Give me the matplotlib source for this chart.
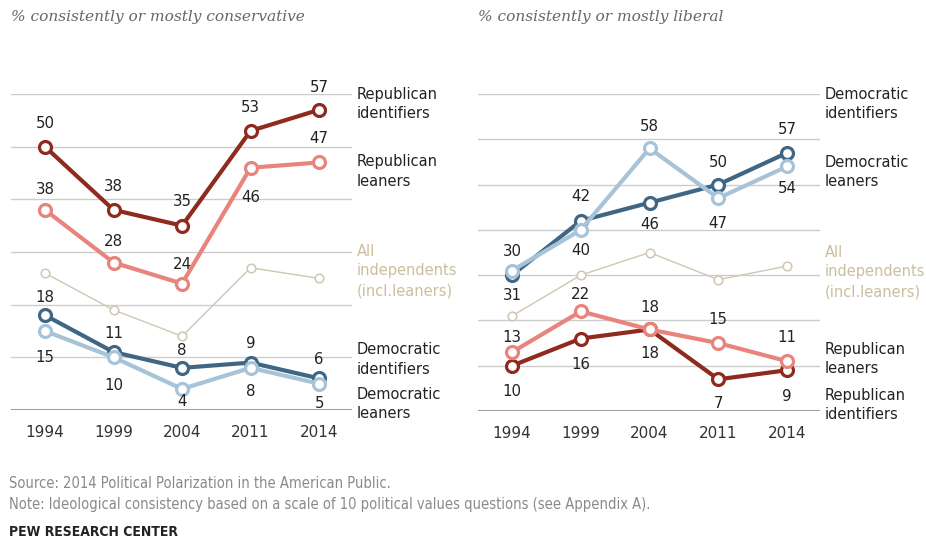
import matplotlib
matplotlib.use("Agg")
import matplotlib.pyplot as plt

years = ["1994", "1999", "2004", "2011", "2014"]

# % consistently or mostly conservative
cons_rep_ident = [50, 38, 35, 53, 57]
cons_rep_lean = [38, 28, 24, 46, 47]
cons_indep = [26, 19, 14, 27, 25]
cons_dem_ident = [18, 11, 8, 9, 6]
cons_dem_lean = [15, 10, 4, 8, 5]

# % consistently or mostly liberal
lib_dem_ident = [30, 42, 46, 50, 57]
lib_dem_lean = [31, 40, 58, 47, 54]
lib_indep = [21, 30, 35, 29, 32]
lib_rep_lean = [13, 22, 18, 15, 11]
lib_rep_ident = [10, 16, 18, 7, 9]

C_REP_ID = "#8E2A1E"
C_REP_LN = "#E8847B"
C_DEM_ID = "#3F6785"
C_DEM_LN = "#A7C3D7"
C_IND = "#CFC7B1"
C_IND_TXT = "#CBBE9E"
C_TXT = "#222222"
C_GRID = "#CCCCCC"
C_BASE = "#9A9A9A"

W, H = 926, 542
fig = plt.figure(figsize=(W / 100, H / 100), dpi=100)
fig.patch.set_facecolor("white")


def px_axes(left, top, right, bottom):
    return fig.add_axes([left / W, 1 - bottom / H, (right - left) / W, (bottom - top) / H])


def setup(ax, ymax):
    ax.set_xlim(-0.496, 4.48)
    ax.set_ylim(0, ymax)
    for s in ax.spines.values():
        s.set_visible(False)
    ax.set_yticks([])
    ax.set_xticks(range(len(years)), years)
    ax.tick_params(axis="x", length=0, pad=11, labelsize=11, labelcolor="#333333")
    for v in range(10, ymax + 1, 10):
        ax.axhline(v, color=C_GRID, lw=1.0, zorder=1)
    ax.axhline(0, color=C_BASE, lw=1.4, zorder=1)
    ax.patch.set_alpha(0)


def thick(ax, vals, color, z):
    ax.plot(range(len(vals)), vals, color=color, lw=3.0, marker="o", ms=8.6,
            mfc="white", mec=color, mew=2.3, zorder=z, clip_on=False,
            solid_capstyle="round")


def thin(ax, vals):
    ax.plot(range(len(vals)), vals, color=C_IND, lw=1.0, marker="o", ms=6.2,
            mfc="white", mec=C_IND, mew=1.1, zorder=3, clip_on=False)


def labels(ax, vals, offs):
    for i, (v, o) in enumerate(zip(vals, offs)):
        ax.annotate(str(v), (i, v), xytext=(0, -o * 0.72), textcoords="offset points",
                    ha="center", va="center", fontsize=10.8, color=C_TXT, zorder=10)


def series_name(ax, text, y, color=C_TXT):
    ax.text(1.0145, y, text, transform=ax.get_yaxis_transform(), ha="left", va="center",
            fontsize=10.5, color=color, linespacing=1.38)


# ---- left panel: conservative
axL = px_axes(11, 94, 352, 410)
setup(axL, 60)
thin(axL, cons_indep)
thick(axL, cons_dem_ident, C_DEM_ID, 4)
thick(axL, cons_dem_lean, C_DEM_LN, 5)
thick(axL, cons_rep_ident, C_REP_ID, 6)
thick(axL, cons_rep_lean, C_REP_LN, 5)
labels(axL, cons_rep_ident, [-23, -23, -24, -23, -22])
labels(axL, cons_rep_lean, [-20, -21, -19, 30, -24])
labels(axL, cons_dem_ident, [-18, -19, -17, -19, -19])
labels(axL, cons_dem_lean, [27, 28, 13, 24, 20])
series_name(axL, "Republican\nidentifiers", 58.1)
series_name(axL, "Republican\nleaners", 45.3)
series_name(axL, "All\nindependents\n(incl.leaners)", 26.4, C_IND_TXT)
series_name(axL, "Democratic\nidentifiers", 9.6)
series_name(axL, "Democratic\nleaners", 1.1)

# ---- right panel: liberal
axR = px_axes(478, 94, 820, 411)
setup(axR, 70)
thin(axR, lib_indep)
thick(axR, lib_rep_ident, C_REP_ID, 4)
thick(axR, lib_rep_lean, C_REP_LN, 5)
thick(axR, lib_dem_ident, C_DEM_ID, 4)
thick(axR, lib_dem_lean, C_DEM_LN, 5)
labels(axR, lib_dem_ident, [-24, -24, 22, -22, -23])
labels(axR, lib_dem_lean, [25, 21, -22, 25, 22])
labels(axR, lib_rep_lean, [-15, -17, -22, -24, -24])
labels(axR, lib_rep_ident, [26, 26, 24, 24, 26])
series_name(axR, "Democratic\nidentifiers", 67.8)
series_name(axR, "Democratic\nleaners", 52.8)
series_name(axR, "All\nindependents\n(incl.leaners)", 30.7, C_IND_TXT)
series_name(axR, "Republican\nleaners", 11.5)
series_name(axR, "Republican\nidentifiers", 1.3)

# ---- titles
title_kw = dict(fontsize=11.1, style="italic", color="#6E665E",
                family=["DejaVu Serif"], va="center", ha="left")
fig.text(11 / W, 1 - 17 / H, "% consistently or mostly conservative", **title_kw)
fig.text(478 / W, 1 - 17 / H, "% consistently or mostly liberal", **title_kw)

# ---- footer
foot_kw = dict(fontsize=10.5, color="#8A8A8A", family=["DejaVu Sans"], stretch="condensed",
               va="center", ha="left")
fig.text(9 / W, 1 - 484 / H, "Source: 2014 Political Polarization in the American Public.", **foot_kw)
fig.text(9 / W, 1 - 504 / H,
         "Note: Ideological consistency based on a scale of 10 political values questions (see Appendix A).",
         **foot_kw)
fig.text(9 / W, 1 - 532 / H, "PEW RESEARCH CENTER", fontsize=10.0, weight="bold", color="#222222",
         family=["DejaVu Sans"], stretch="condensed", va="center", ha="left")

fig.savefig("out.png", dpi=100)
